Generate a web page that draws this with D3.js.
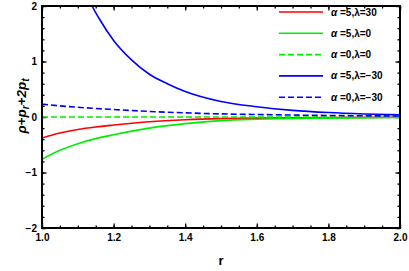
<!DOCTYPE html>
<html>
<head>
<meta charset="UTF-8">
<title>energy condition</title>
<style>
body { margin: 0; background: #fff; }
svg text { font-family: "Liberation Sans", Arial, sans-serif; font-weight: bold; fill: #000; }
.tick-label { font-size: 10px; }
.curve { fill: none; stroke-width: 1.6px; }
</style>
</head>
<body>
<div class="chart"></div>
<script src="https://cdn.jsdelivr.net/npm/d3@7/dist/d3.min.js"></script>
<script>
// values
let rRed = [1.0, 1.05, 1.1, 1.15, 1.2, 1.3, 1.4, 1.5, 1.6, 1.8, 2.0];
let red = [-0.38, -0.29, -0.225, -0.18, -0.145, -0.085, -0.05, -0.03, -0.02, -0.01, -0.005];

let rGreen = [1.0, 1.05, 1.1, 1.15, 1.2, 1.3, 1.4, 1.5, 1.6, 1.8, 2.0];
let green = [-0.76, -0.6, -0.48, -0.39, -0.32, -0.2, -0.12, -0.065, -0.04, -0.02, -0.01];

let rGreenDash = [1.0, 2.0];
let greenDash = [0, 0];

let rBlue = [1.13, 1.14, 1.16, 1.2, 1.25, 1.3, 1.35, 1.4, 1.5, 1.6, 1.7, 1.8, 1.9, 2.0];
let blue = [2.15, 2.0, 1.77, 1.38, 1.03, 0.77, 0.6, 0.46, 0.28, 0.185, 0.12, 0.08, 0.055, 0.038];

let rBlueDash = [1.0, 1.1, 1.2, 1.3, 1.4, 1.5, 1.6, 1.7, 1.8, 1.9, 2.0];
let blueDash = [0.23, 0.175, 0.135, 0.1, 0.075, 0.056, 0.045, 0.035, 0.028, 0.022, 0.018];

let xTicks = [1.0, 1.2, 1.4, 1.6, 1.8, 2.0];
let yTicks = [-2, -1, 0, 1, 2];

let legendLabels = ['=5,\u03bb=30', '=5,\u03bb=0', '=0,\u03bb=0', '=5,\u03bb=\u221230', '=0,\u03bb=\u221230'];

let width = 409, height = 271;
let mLeft = 42, mRight = 400, mTop = 6, mBottom = 228;

let svg = d3.select('.chart').append('svg')
    .attr('width', width)
    .attr('height', height);

let x = d3.scaleLinear().domain([1, 2]).range([mLeft, mRight]);
let y = d3.scaleLinear().domain([-2, 2]).range([mBottom, mTop]);

svg.append('defs').append('clipPath').attr('id', 'clip')
    .append('rect')
    .attr('x', mLeft).attr('y', mTop)
    .attr('width', mRight - mLeft).attr('height', mBottom - mTop);

// ticks on all four sides, pointing inward
let minorX = d3.range(1, 2.0001, 0.05);
let minorY = d3.range(-2, 2.0001, 0.2);

const frameTicks = (g, axis, vals, size) => {
    g.call(axis.tickValues(vals).tickSize(size).tickFormat(''));
    g.select('.domain').remove();
    g.selectAll('.tick line').attr('stroke', '#000').attr('stroke-width', 1.3);
};

svg.append('g').attr('transform', 'translate(0,' + mBottom + ')')
    .call(g => frameTicks(g, d3.axisTop(x), minorX, 2.5));
svg.append('g').attr('transform', 'translate(0,' + mBottom + ')')
    .call(g => frameTicks(g, d3.axisTop(x), xTicks, 4.5));
svg.append('g').attr('transform', 'translate(0,' + mTop + ')')
    .call(g => frameTicks(g, d3.axisBottom(x), minorX, 2.5));
svg.append('g').attr('transform', 'translate(0,' + mTop + ')')
    .call(g => frameTicks(g, d3.axisBottom(x), xTicks, 4.5));
svg.append('g').attr('transform', 'translate(' + mLeft + ',0)')
    .call(g => frameTicks(g, d3.axisRight(y), minorY, 2.5));
svg.append('g').attr('transform', 'translate(' + mLeft + ',0)')
    .call(g => frameTicks(g, d3.axisRight(y), yTicks, 4.5));
svg.append('g').attr('transform', 'translate(' + mRight + ',0)')
    .call(g => frameTicks(g, d3.axisLeft(y), minorY, 2.5));
svg.append('g').attr('transform', 'translate(' + mRight + ',0)')
    .call(g => frameTicks(g, d3.axisLeft(y), yTicks, 4.5));

// tick labels
let xLab = d3.axisBottom(x).tickValues(xTicks).tickSize(0).tickPadding(6).tickFormat(d3.format('.1f'));
svg.append('g').attr('transform', 'translate(0,' + mBottom + ')')
    .call(xLab)
    .call(g => g.select('.domain').remove())
    .selectAll('text').attr('class', 'tick-label');

let yLab = d3.axisLeft(y).tickValues(yTicks).tickSize(0).tickPadding(5)
    .tickFormat(d => d < 0 ? '\u2212' + Math.abs(d) : d);
svg.append('g').attr('transform', 'translate(' + mLeft + ',0)')
    .call(yLab)
    .call(g => g.select('.domain').remove())
    .selectAll('text').attr('class', 'tick-label');

// curves
let series = [
    {r: rRed, v: red, color: '#ff0000', dash: null},
    {r: rGreen, v: green, color: '#00ee00', dash: null},
    {r: rGreenDash, v: greenDash, color: '#00ee00', dash: '6,3'},
    {r: rBlue, v: blue, color: '#0000ff', dash: null},
    {r: rBlueDash, v: blueDash, color: '#0000ff', dash: '6,3'}
];

let line = d3.line()
    .x(d => x(d[0]))
    .y(d => y(d[1]))
    .curve(d3.curveMonotoneX);

let plot = svg.append('g').attr('clip-path', 'url(#clip)');
series.forEach(s => {
    plot.append('path')
        .attr('class', 'curve')
        .attr('d', line(s.r.map((r, i) => [r, s.v[i]])))
        .attr('stroke', s.color)
        .attr('stroke-dasharray', s.dash);
});

// frame
svg.append('rect')
    .attr('x', mLeft).attr('y', mTop)
    .attr('width', mRight - mLeft).attr('height', mBottom - mTop)
    .attr('fill', 'none').attr('stroke', '#000').attr('stroke-width', 2);

// legend
let lg = svg.append('g');
series.forEach((s, i) => {
    let ly = 12 + i * 21.3;
    lg.append('line')
        .attr('x1', 279).attr('x2', 323)
        .attr('y1', ly).attr('y2', ly)
        .attr('stroke', s.color).attr('stroke-width', 1.6)
        .attr('stroke-dasharray', s.dash);
    let t = lg.append('text')
        .attr('x', 331).attr('y', ly + 3.5)
        .style('font-size', '10px');
    t.append('tspan').style('font-style', 'italic').text('\u03b1 ');
    t.append('tspan').text(legendLabels[i]);
});

// axis titles
svg.append('text')
    .attr('x', (mLeft + mRight) / 2).attr('y', 265)
    .attr('text-anchor', 'middle')
    .style('font-size', '13px')
    .text('r');

let yt = svg.append('text')
    .attr('transform', 'translate(26,106) rotate(-90)')
    .attr('text-anchor', 'middle')
    .style('font-size', '13.5px')
    .style('font-style', 'italic');
yt.append('tspan').text('\u03c1+p');
yt.append('tspan').attr('dy', 3).style('font-size', '10px').text('r');
yt.append('tspan').attr('dy', -3).text('+2p');
yt.append('tspan').attr('dy', 3).style('font-size', '10px').text('t');
</script>
</body>
</html>
